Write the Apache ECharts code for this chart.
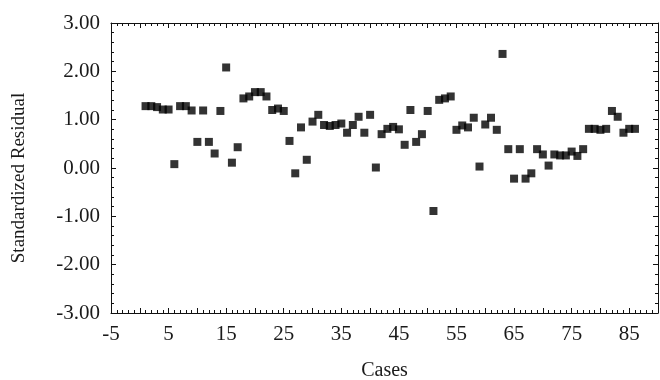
<!DOCTYPE html>
<html>
<head>
<meta charset="utf-8">
<script src="https://cdn.jsdelivr.net/npm/echarts@6/dist/echarts.min.js"></script>
<style>
  html, body { margin: 0; padding: 0; background: #fff; }
  #chart { width: 660px; height: 380px; }
</style>
</head>
<body>
<div id="chart"></div>
<script>
// standardized residual for cases 1..86
let residuals = [
  1.28, 1.28, 1.26, 1.21, 1.21, 0.08, 1.28, 1.28, 1.19, 0.54,
  1.19, 0.54, 0.30, 1.18, 2.08, 0.11, 0.43, 1.44, 1.48, 1.57,
  1.57, 1.48, 1.20, 1.23, 1.18, 0.56, -0.11, 0.84, 0.17, 0.96,
  1.10, 0.89, 0.87, 0.89, 0.92, 0.73, 0.89, 1.06, 0.73, 1.10,
  0.01, 0.70, 0.81, 0.85, 0.80, 0.48, 1.20, 0.54, 0.70, 1.18,
  -0.89, 1.41, 1.44, 1.48, 0.79, 0.88, 0.84, 1.04, 0.03, 0.90,
  1.04, 0.79, 2.36, 0.39, -0.22, 0.39, -0.22, -0.11, 0.39, 0.28,
  0.05, 0.28, 0.26, 0.26, 0.34, 0.25, 0.39, 0.81, 0.81, 0.79,
  0.81, 1.18, 1.06, 0.73, 0.81, 0.81
]
let xMin = -5
let xMax = 90
let yMin = -3
let yMax = 3

let points = residuals.map((v, i) => [i + 1, v])

let font = 'Liberation Serif'
let txt = '#1a1a1a'

function xAxisBase (pos) {
  return {
    type: 'value',
    position: pos,
    min: xMin,
    max: xMax,
    interval: 5,
    splitLine: { show: false },
    axisLine: { onZero: false, lineStyle: { color: '#111', width: 1 } },
    axisTick: { inside: true, length: 5, lineStyle: { color: '#111' } },
    minorTick: { show: true, splitNumber: 5, length: 3, lineStyle: { color: '#111' } },
    axisLabel: { show: false }
  }
}

function yAxisBase (pos) {
  return {
    type: 'value',
    position: pos,
    min: yMin,
    max: yMax,
    interval: 1,
    splitLine: { show: false },
    axisLine: { onZero: false, lineStyle: { color: '#111', width: 1 } },
    axisTick: { inside: true, length: 5, lineStyle: { color: '#111' } },
    minorTick: { show: true, splitNumber: 5, length: 3, lineStyle: { color: '#111' } },
    axisLabel: { show: false }
  }
}

let bottomX = xAxisBase('bottom')
bottomX.axisLabel = {
  show: true,
  fontFamily: font,
  fontSize: 21,
  color: txt,
  margin: 11,
  showMaxLabel: false,
  formatter: v => ((v - xMin) % 10 === 0 ? String(v) : '')
}
bottomX.name = 'Cases'
bottomX.nameLocation = 'middle'
bottomX.nameGap = 48
bottomX.nameMoveOverlap = false
bottomX.nameTextStyle = { fontFamily: font, fontSize: 20, color: txt }

let topX = xAxisBase('top')

let leftY = yAxisBase('left')
leftY.axisLabel = {
  show: true,
  fontFamily: font,
  fontSize: 21,
  color: txt,
  margin: 11,
  formatter: v => v.toFixed(2)
}
leftY.name = 'Standardized Residual'
leftY.nameLocation = 'middle'
leftY.nameGap = 82
leftY.nameTextStyle = { fontFamily: font, fontSize: 19, color: txt, padding: [0, 20, 0, 0] }

let rightY = yAxisBase('right')

let chart = echarts.init(document.getElementById('chart'), null, { renderer: 'canvas' })
chart.setOption({
  backgroundColor: '#fff',
  animation: false,
  grid: { left: 111, right: 2, top: 23, bottom: 67, containLabel: false, outerBoundsMode: 'none' },
  xAxis: [bottomX, topX],
  yAxis: [leftY, rightY],
  series: [{
    type: 'scatter',
    xAxisIndex: 0,
    yAxisIndex: 0,
    symbol: 'rect',
    symbolSize: 8,
    itemStyle: { color: '#000' },
    data: points
  }]
})
</script>
</body>
</html>
